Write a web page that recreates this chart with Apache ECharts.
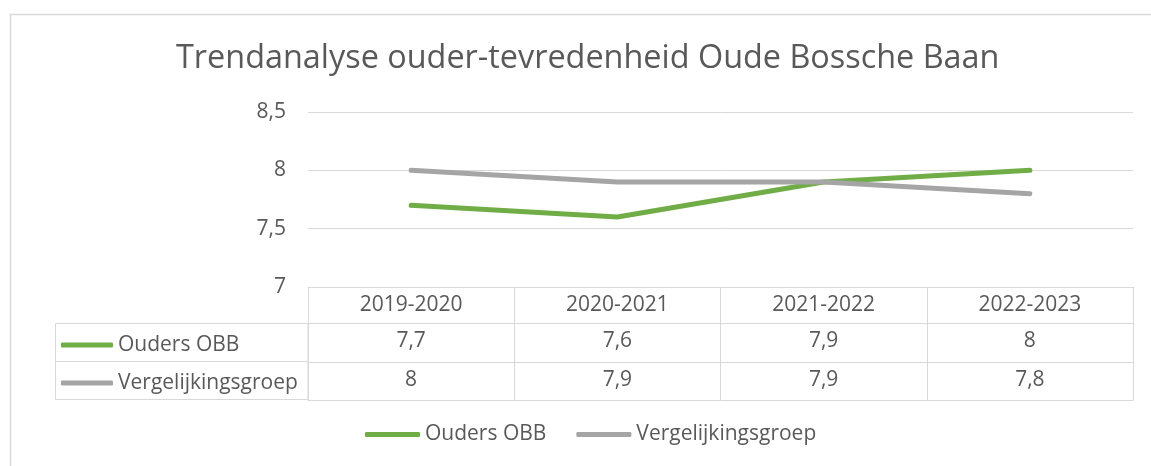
<!DOCTYPE html>
<html>
<head>
<meta charset="utf-8">
<script src="https://cdn.jsdelivr.net/npm/echarts@6/dist/echarts.min.js"></script>
<style>html,body{margin:0;padding:0;background:#fff}#c{width:1151px;height:466px}</style>
</head>
<body>
<div id="c"></div>
<script>
var categories = ['2019-2020', '2020-2021', '2021-2022', '2022-2023'];
var seriesNames = ['Ouders OBB', 'Vergelijkingsgroep'];
var oudersOBB = [7.7, 7.6, 7.9, 8];
var vergelijkingsgroep = [8, 7.9, 7.9, 7.8];
var yTicks = [7, 7.5, 8, 8.5];
var titleText = 'Trendanalyse ouder-tevredenheid Oude Bossche Baan';

var FONT = 'Open Sans';
var TXT = '#595959';
var GRID = '#D9D9D9';
var GREEN = '#70AD47';
var GRAY = '#A5A5A5';
var FS = 21;
function fmt(v){ return String(v).replace('.', ','); }

var chart = echarts.init(document.getElementById('c'), null, {renderer: 'canvas'});

var tableAxis = function(idx, offset, data, showLabels, tickLen){
  return {
    type: 'category', gridIndex: 0, position: 'bottom', offset: offset,
    data: data, boundaryGap: true,
    axisLine: {show: true, lineStyle: {color: GRID, width: 1}},
    axisTick: {show: tickLen > 0, length: tickLen, interval: 0, lineStyle: {color: GRID, width: 1}},
    axisLabel: {show: showLabels, interval: 0, margin: 18, verticalAlign: 'middle',
      color: TXT, fontFamily: FONT, fontSize: FS},
    splitLine: {show: false}
  };
};

chart.setOption({
  animation: false,
  textStyle: {fontFamily: FONT},
  title: {
    text: titleText, left: 171, top: 38,
    textStyle: {fontFamily: FONT, fontSize: 32.4, fontWeight: 'normal', color: TXT}
  },
  legend: [
    {
      data: seriesNames, bottom: 16, left: 360, itemWidth: 55, itemHeight: 5,
      icon: 'roundRect', itemGap: 30,
      textStyle: {fontFamily: FONT, fontSize: FS, color: TXT}
    },
    {
      data: seriesNames, orient: 'vertical', left: 56, top: 329, itemWidth: 52, itemHeight: 5,
      icon: 'roundRect', itemGap: 16, selectedMode: false,
      textStyle: {fontFamily: FONT, fontSize: FS, color: TXT, lineHeight: 22}
    }
  ],
  grid: {left: 308, right: 18, top: 112, bottom: 179, containLabel: false},
  xAxis: [
    tableAxis(0, 0, categories, true, 36),
    tableAxis(1, 36, oudersOBB.map(fmt), true, 39),
    tableAxis(2, 75, vergelijkingsgroep.map(fmt), true, 38),
    tableAxis(3, 113, categories, false, 0)
  ],
  yAxis: {
    type: 'value', min: yTicks[0], max: yTicks[yTicks.length - 1], interval: 0.5,
    axisLine: {show: false}, axisTick: {show: false},
    axisLabel: {color: TXT, fontFamily: FONT, fontSize: FS, margin: 22, formatter: fmt},
    splitLine: {lineStyle: {color: GRID, width: 1}}
  },
  series: [
    {name: seriesNames[0], type: 'line', data: oudersOBB, xAxisIndex: 0, symbol: 'none',
      color: GREEN, lineStyle: {width: 5, cap: 'round', join: 'round', color: GREEN}},
    {name: seriesNames[1], type: 'line', data: vergelijkingsgroep, xAxisIndex: 0, symbol: 'none',
      color: GRAY, lineStyle: {width: 5, cap: 'round', join: 'round', color: GRAY}}
  ],
  graphic: [
    {type: 'rect', silent: true, z: -1, shape: {x: 10.5, y: 14.5, width: 1300, height: 600},
      style: {fill: 'none', stroke: GRID, lineWidth: 1.5}},
    {type: 'rect', silent: true, shape: {x: 55.5, y: 323.5, width: 252.5, height: 76},
      style: {fill: 'none', stroke: GRID, lineWidth: 1}},
    {type: 'line', silent: true, shape: {x1: 55.5, y1: 361.5, x2: 308, y2: 361.5},
      style: {stroke: GRID, lineWidth: 1}}
  ]
});
</script>
</body>
</html>
